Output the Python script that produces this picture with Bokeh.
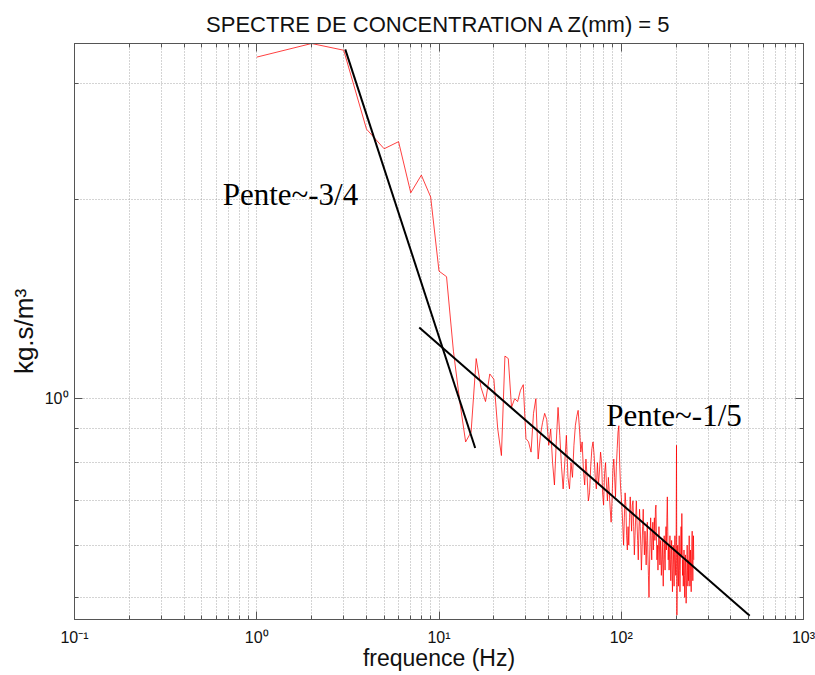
from bokeh.plotting import figure
from bokeh.models import FixedTicker, LogAxis, CustomJSTickFormatter, Range1d, ColumnDataSource
from bokeh.core.properties import value
from bokeh.embed import file_html
from bokeh.resources import INLINE

# ---------------- data ----------------
title_text = "SPECTRE DE CONCENTRATION A Z(mm) = 5"
x_label = "frequence (Hz)"
y_label = "kg.s/m\u00b3"

# concentration spectrum, one value per Hz from 1 Hz to 250 Hz
conc = [
    3.29, 3.45, 3.37, 2.56, 2.39, 2.45, 2.05, 2.18, 2.02, 1.56,
    1.53, 1.18, 0.99, 0.86, 0.89, 1.15, 1.04, 0.99, 1.09, 1.07,
    0.90, 0.82, 1.16, 1.15, 0.97, 1.00, 0.99, 1.03, 1.05, 0.87,
    0.86, 0.83, 0.95, 1.00, 0.81, 0.88, 0.92, 0.95, 0.93, 0.85,
    0.90, 0.80, 0.74, 0.86, 0.97, 0.88, 0.79, 0.73, 0.80, 0.88,
    0.76, 0.73, 0.80, 0.76, 0.85, 0.91, 0.94, 0.96, 0.90, 0.83,
    0.86, 0.78, 0.74, 0.81, 0.76, 0.70, 0.72, 0.79, 0.84, 0.86,
    0.82, 0.76, 0.73, 0.80, 0.74, 0.78, 0.83, 0.80, 0.72, 0.69,
    0.77, 0.80, 0.74, 0.70, 0.76, 0.72, 0.68, 0.65, 0.70, 0.78,
    0.81, 0.76, 0.71, 0.79, 0.84, 0.89, 0.91, 0.80, 0.74, 0.71,
    0.68, 0.64, 0.60, 0.66, 0.72, 0.69, 0.62, 0.59, 0.64, 0.60,
    0.66, 0.71, 0.67, 0.63, 0.69, 0.70, 0.64, 0.58, 0.62, 0.66,
    0.70, 0.65, 0.61, 0.57, 0.63, 0.68, 0.64, 0.60, 0.55, 0.59,
    0.64, 0.68, 0.62, 0.58, 0.63, 0.60, 0.56, 0.61, 0.65, 0.58,
    0.54, 0.50, 0.56, 0.62, 0.66, 0.60, 0.57, 0.62, 0.65, 0.59,
    0.63, 0.66, 0.61, 0.68, 0.69, 0.62, 0.57, 0.60, 0.55, 0.59,
    0.64, 0.60, 0.56, 0.61, 0.58, 0.54, 0.57, 0.61, 0.56, 0.52,
    0.57, 0.62, 0.58, 0.55, 0.60, 0.64, 0.59, 0.66, 0.71, 0.63,
    0.57, 0.60, 0.55, 0.58, 0.62, 0.57, 0.53, 0.57, 0.61, 0.55,
    0.51, 0.56, 0.60, 0.56, 0.52, 0.58, 0.62, 0.57, 0.54, 0.60,
    0.85, 0.47, 0.55, 0.60, 0.56, 0.52, 0.58, 0.62, 0.55, 0.51,
    0.56, 0.60, 0.64, 0.58, 0.67, 0.59, 0.54, 0.57, 0.52, 0.55,
    0.59, 0.54, 0.50, 0.55, 0.58, 0.53, 0.49, 0.52, 0.56, 0.60,
    0.55, 0.52, 0.57, 0.53, 0.58, 0.62, 0.56, 0.52, 0.55, 0.59,
    0.54, 0.51, 0.56, 0.60, 0.63, 0.57, 0.53, 0.58, 0.62, 0.57,
]
freq = list(range(1, len(conc) + 1))

# fitted slopes (end points)
fit1_f = [3.06, 15.8]
fit1_v = [3.38, 0.842]
fit2_f = [7.79, 507.0]
fit2_v = [1.282, 0.469]

# annotation texts and anchors (data coords)
ann_text = ["Pente~-3/4", "Pente~-1/5"]
ann_f = [0.65, 82.7]
ann_v = [2.04, 0.942]

# ticks
x_major = [0.1, 1, 10, 100, 1000]
x_minor = [0.2, 0.3, 0.4, 0.5, 0.6, 0.7, 0.8, 0.9,
           2, 3, 4, 5, 6, 7, 8, 9,
           20, 30, 40, 50, 60, 70, 80, 90,
           200, 300, 400, 500, 600, 700, 800, 900]
y_major = [1]
y_minor = [0.5, 0.6, 0.7, 0.8, 0.9, 2, 3]
x_lim = [0.1, 1000]
y_lim = [0.463, 3.45]

# ---------------- plot ----------------
GRID = "#a8a8a8"
AX = "#555555"

p = figure(width=815, height=675, x_axis_type="log", y_axis_type="log",
           x_range=Range1d(*x_lim), y_range=Range1d(*y_lim),
           output_backend="svg", toolbar_location=None,
           min_border_left=74, min_border_right=12, min_border_top=43, min_border_bottom=56)

p.title.text = title_text
p.title.text_font = "Liberation Sans"
p.title.text_font_size = "22px"
p.title.text_font_style = "normal"
p.title.align = "center"
p.title.text_color = "#111111"
p.title.standoff = 14

xt = FixedTicker(ticks=x_major, minor_ticks=x_minor)
yt = FixedTicker(ticks=y_major, minor_ticks=y_minor)

sup_code = r"""
const e = Math.round(Math.log10(tick));
const m = {"-": "\u207b", "0": "\u2070", "1": "\u00b9", "2": "\u00b2", "3": "\u00b3"};
let s = "";
for (const c of String(e)) s += m[c];
return "10" + s;
"""

p.xaxis.ticker = xt
p.yaxis.ticker = yt
p.xgrid.ticker = xt
p.ygrid.ticker = yt
p.xaxis.formatter = CustomJSTickFormatter(code=sup_code)
p.yaxis.formatter = CustomJSTickFormatter(code=sup_code)

for ax in (p.xaxis, p.yaxis):
    ax.major_tick_in = 8
    ax.major_tick_out = 0
    ax.minor_tick_in = 4
    ax.minor_tick_out = 0
    ax.axis_line_color = AX
    ax.major_tick_line_color = AX
    ax.minor_tick_line_color = AX
    ax.major_label_text_font = "Liberation Sans"
    ax.major_label_text_font_size = "16px"
    ax.major_label_text_color = "#111111"
    ax.axis_label_text_font = "Liberation Sans"
    ax.axis_label_text_font_style = "normal"
    ax.axis_label_text_color = "#111111"

p.xaxis.major_label_standoff = 9
p.xaxis.axis_label_standoff = -4
p.xaxis.axis_label_text_font_size = "23px"
p.yaxis.major_label_standoff = 6
p.yaxis.axis_label_standoff = 3
p.yaxis.axis_label_text_font_size = "26px"

p.xaxis.axis_label = x_label
p.yaxis.axis_label = y_label

for ticker, side in ((yt, "right"), (xt, "above")):
    extra = LogAxis(ticker=ticker, formatter=CustomJSTickFormatter(code="return '';"),
                    major_label_text_font_size="0px", major_label_standoff=0,
                    major_tick_in=8, major_tick_out=0, minor_tick_in=4, minor_tick_out=0,
                    axis_line_color=AX, major_tick_line_color=AX, minor_tick_line_color=AX)
    p.add_layout(extra, side)

for g in (p.xgrid, p.ygrid):
    g.grid_line_color = GRID
    g.grid_line_dash = "1 2"
    g.grid_line_width = 1
    g.minor_grid_line_color = GRID
    g.minor_grid_line_dash = "1 2"
    g.minor_grid_line_width = 1

p.outline_line_color = AX
p.outline_line_width = 1
p.background_fill_color = "white"
p.border_fill_color = "white"

p.line(freq, conc, line_color="#ff0000", line_width=1, line_alpha=0.75)
p.line(fit1_f, fit1_v, line_color="black", line_width=2)
p.line(fit2_f, fit2_v, line_color="black", line_width=2)

src = ColumnDataSource(dict(x=ann_f, y=ann_v, t=ann_text))
p.text(x="x", y="y", text="t", source=src, text_font=value("Liberation Serif"),
       text_font_size=value("31px"), text_color="black",
       text_align="left", text_baseline="alphabetic")

open("out.html", "w").write(file_html(p, INLINE))
